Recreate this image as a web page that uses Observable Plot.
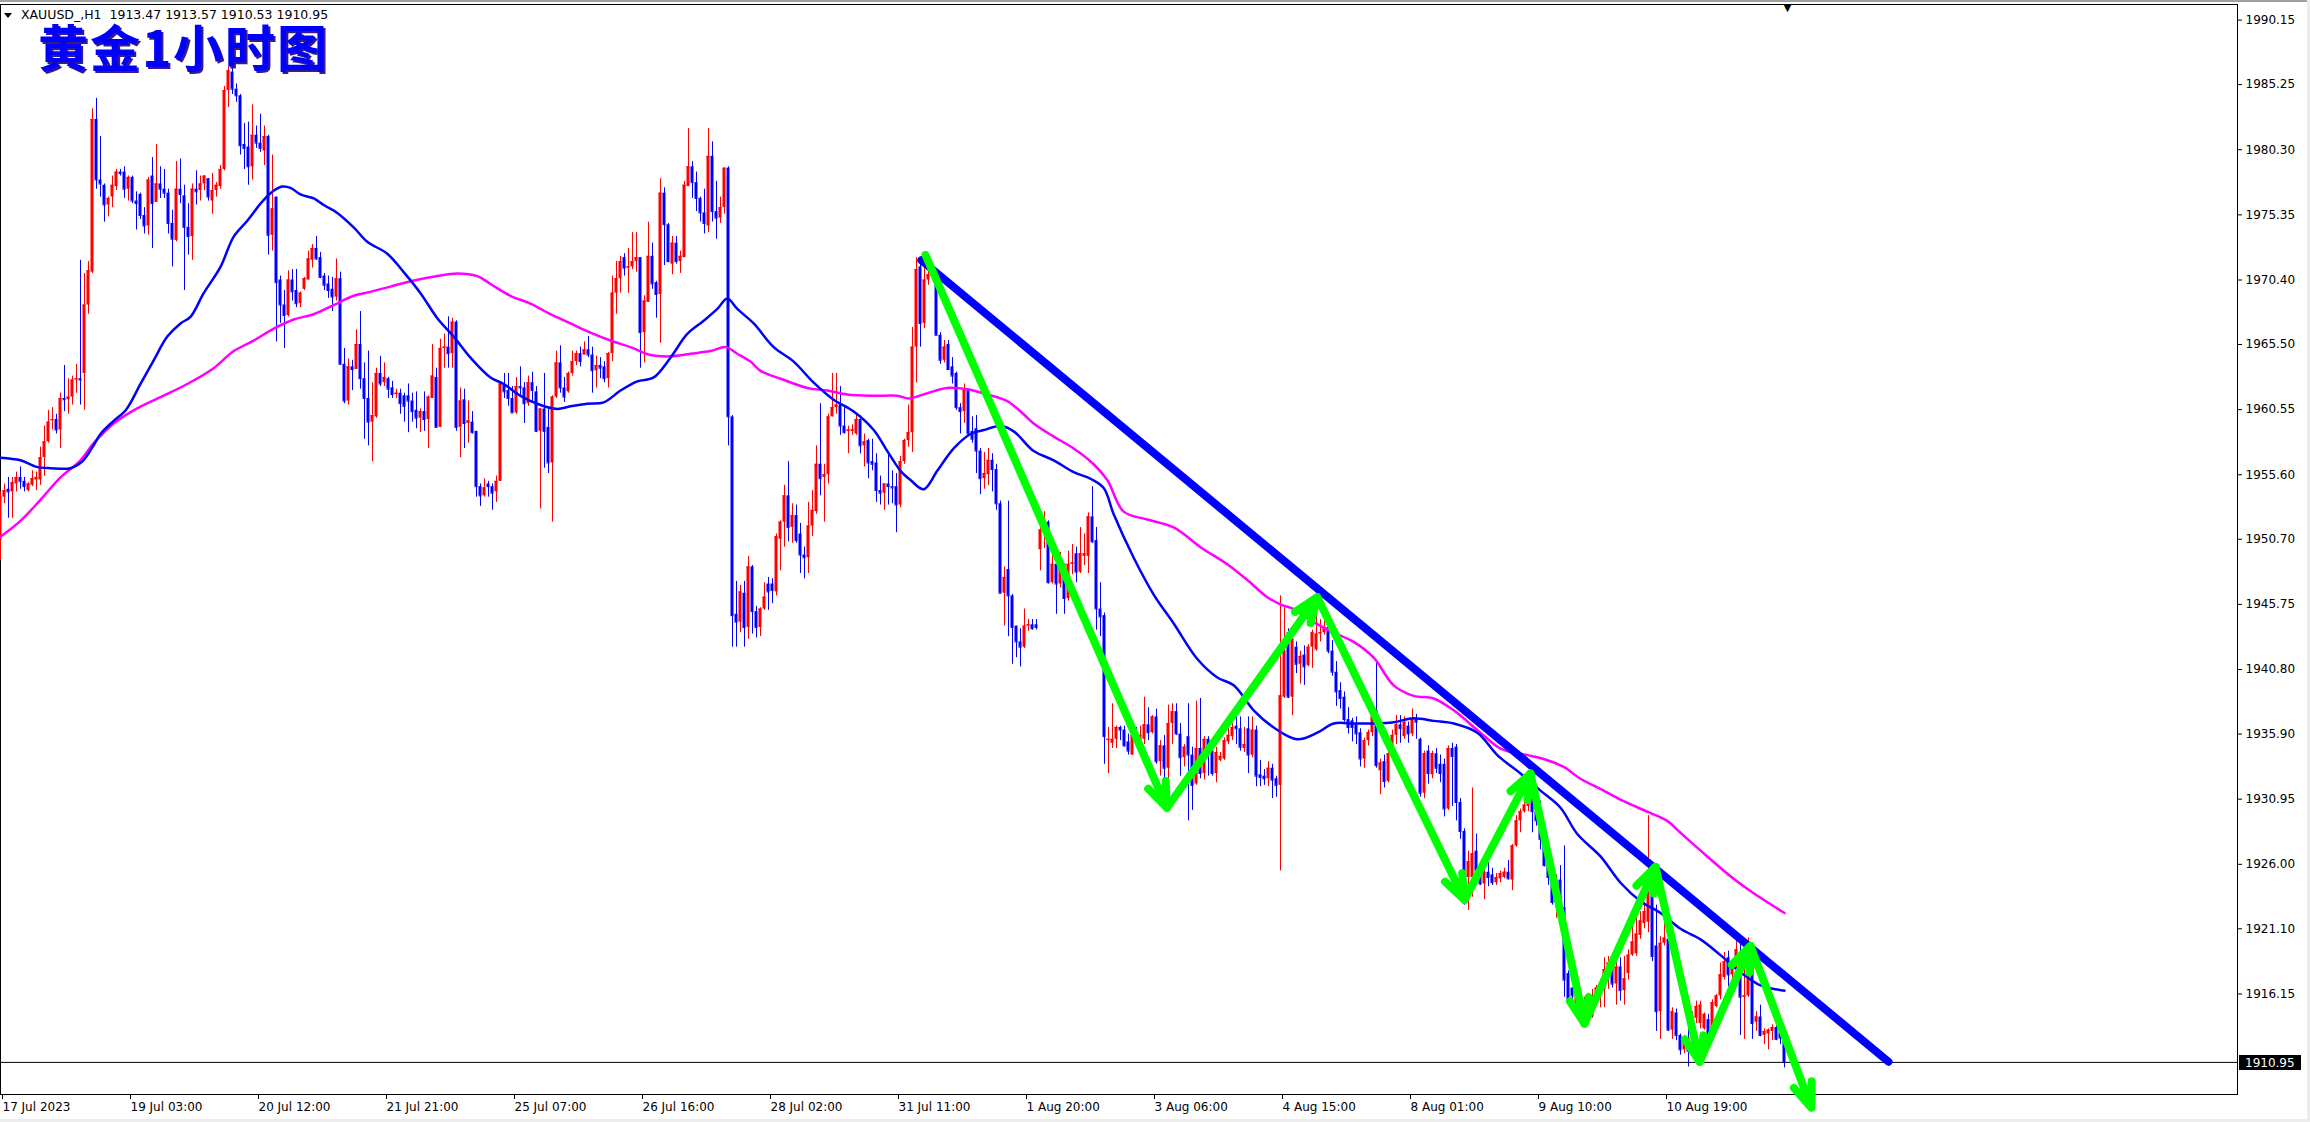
<!DOCTYPE html>
<html>
<head>
<meta charset="utf-8">
<script src="https://cdn.jsdelivr.net/npm/d3@7"></script>
<script src="https://cdn.jsdelivr.net/npm/@observablehq/plot@0.6"></script>
<style>
@font-face{font-family:"TitleCJK";src:local("Noto Sans CJK SC Bold"),local("NotoSansCJKsc-Bold"),local("Noto Sans CJK SC");font-weight:700;ascent-override:88%;descent-override:12%;line-gap-override:0%;}
html,body{margin:0;padding:0;background:#fff;}
#wrap{position:relative;width:2310px;height:1122px;overflow:hidden;background:#fff;}
#wrap svg{position:absolute;left:0;top:0;}
#topbar{position:absolute;left:0;top:0;width:2310px;height:2px;background:#a0a0a0;z-index:3;}
#bottombar{position:absolute;left:0;top:1119px;width:2310px;height:3px;background:#ececec;z-index:3;}
#rightbar{position:absolute;left:2307px;top:0;width:3px;height:1122px;background:#ececec;z-index:3;}
#tri{position:absolute;left:4px;top:13px;width:0;height:0;border-left:4.5px solid transparent;border-right:4.5px solid transparent;border-top:5px solid #000;z-index:3;}
#header{position:absolute;left:21px;top:7px;font-family:"DejaVu Sans",sans-serif;font-size:12.5px;line-height:15px;color:#000;white-space:pre;z-index:3;}
#title{position:absolute;left:38px;top:23px;font-family:"TitleCJK","Noto Sans CJK SC",sans-serif;font-weight:700;font-size:50px;line-height:50px;letter-spacing:2px;color:#0000ff;text-shadow:2px 2px 0 #3a1a8a;white-space:pre;z-index:3;}
</style>
</head>
<body>
<div id="wrap">
  <div id="topbar"></div>
  <div id="bottombar"></div>
  <div id="rightbar"></div>
  <div id="tri"></div>
  <div id="header">XAUUSD_,H1  1913.47 1913.57 1910.53 1910.95</div>
  <div id="title">黄金1小时图</div>
</div>
<script>
// ---------- DATA (H1 bars, index 0 = 17 Jul 2023 17:00) ----------
const open = [
1950.6,1953.9,1954.5,1954.3,1954.9,1955.4,1955.1,1954.4,1954.8,1955.2,
1955.2,1956.9,1958.1,1959.7,1959.8,1959.0,1961.4,1961.3,1961.5,1962.8,
1962.9,1963.3,1968.5,1971.0,1982.6,1978.0,1977.6,1976.1,1976.7,1977.5,
1978.6,1978.6,1977.3,1978.2,1976.4,1976.9,1975.3,1974.5,1978.3,1976.3,
1977.7,1977.3,1977.0,1974.7,1973.4,1977.3,1976.8,1974.4,1973.7,1977.3,
1977.2,1977.7,1978.1,1976.4,1977.2,1977.5,1978.8,1984.8,1986.2,1984.9,
1984.4,1980.7,1980.5,1979.0,1981.4,1980.8,1980.2,1981.3,1973.8,1976.7,
1970.4,1968.5,1967.7,1970.4,1969.6,1968.6,1969.7,1970.4,1971.9,1972.8,
1972.1,1970.7,1970.1,1969.7,1969.1,1970.5,1964.0,1961.2,1963.8,1963.6,
1965.5,1962.9,1961.4,1959.6,1960.0,1963.3,1962.6,1962.9,1962.2,1961.7,
1961.8,1961.6,1961.6,1961.2,1960.5,1959.9,1960.4,1959.8,1961.4,1963.0,
1959.2,1965.2,1965.3,1964.8,1967.2,1959.2,1961.3,1959.5,1959.6,1958.9,
1954.7,1954.0,1954.9,1954.7,1954.3,1955.1,1962.5,1962.0,1961.4,1960.3,
1962.3,1962.2,1961.0,1962.6,1961.9,1958.9,1960.6,1959.2,1956.5,1961.5,
1964.1,1962.2,1961.9,1963.3,1964.2,1964.8,1964.7,1965.1,1964.7,1963.5,
1963.9,1963.8,1962.9,1964.8,1969.4,1970.5,1972.1,1971.3,1971.4,1971.8,
1972.1,1966.4,1968.7,1972.2,1970.2,1969.3,1977.0,1974.6,1971.6,1973.2,
1971.8,1972.1,1977.5,1979.0,1977.8,1976.6,1975.5,1974.5,1979.8,1975.6,
1975.1,1975.9,1978.9,1960.0,1945.0,1944.4,1946.6,1944.0,1948.6,1945.2,
1944.0,1945.4,1947.3,1947.3,1946.7,1950.7,1952.0,1954.0,1951.6,1952.5,
1951.1,1949.5,1949.3,1951.7,1952.8,1956.4,1955.4,1955.6,1960.0,1960.7,
1960.9,1959.3,1958.9,1958.9,1958.7,1959.8,1957.8,1958.2,1956.6,1956.5,
1954.4,1954.2,1954.9,1954.7,1954.7,1953.3,1956.6,1958.2,1958.8,1965.3,
1971.4,1967.1,1970.4,1970.8,1971.1,1966.2,1964.3,1965.5,1963.8,1963.3,
1960.7,1960.4,1962.0,1958.9,1959.1,1957.4,1955.3,1955.6,1956.7,1956.0,
1953.4,1946.6,1948.4,1946.4,1944.1,1942.9,1942.5,1944.1,1944.2,1944.2,
1949.9,1951.4,1952.0,1947.4,1948.8,1947.3,1948.8,1946.2,1948.8,1949.6,
1948.2,1949.4,1949.4,1952.4,1950.6,1945.4,1944.9,1935.4,1935.2,1935.5,
1936.4,1936.2,1935.3,1934.3,1935.8,1935.4,1935.5,1936.6,1936.0,1937.2,
1933.8,1935.0,1933.3,1936.7,1937.6,1935.9,1934.1,1935.7,1934.3,1932.1,
1934.8,1932.9,1935.5,1934.6,1932.9,1933.9,1934.0,1935.3,1935.7,1936.5,
1936.3,1934.8,1936.3,1934.3,1936.2,1932.8,1932.7,1932.5,1933.3,1932.5,
1932.0,1938.7,1943.6,1938.7,1942.5,1941.2,1941.9,1941.1,1942.5,1942.3,
1943.5,1943.6,1944.0,1942.2,1940.6,1939.2,1938.7,1937.0,1936.9,1936.6,
1936.0,1934.0,1935.4,1936.0,1937.7,1933.1,1933.8,1932.3,1934.4,1935.8,
1936.6,1935.7,1936.5,1935.9,1937.0,1935.5,1931.4,1934.6,1932.8,1934.4,
1933.6,1933.6,1930.2,1934.8,1934.9,1930.7,1928.5,1925.0,1925.0,1927.0,
1925.5,1924.5,1925.4,1925.2,1924.6,1924.9,1925.0,1925.4,1924.8,1927.4,
1929.3,1930.0,1930.4,1931.0,1930.0,1929.4,1927.9,1925.9,1925.0,1923.1,
1924.8,1922.7,1917.7,1916.6,1915.1,1916.0,1914.6,1914.8,1914.4,1916.0,
1916.3,1916.4,1918.0,1918.4,1916.9,1918.2,1916.4,1917.7,1919.1,1919.2,
1920.6,1921.5,1921.6,1924.6,1919.8,1914.8,1920.0,1920.3,1913.4,1914.7,
1913.0,1911.9,1912.8,1912.7,1914.3,1913.9,1913.5,1914.2,1913.4,1915.2,
1916.0,1917.4,1918.9,1917.6,1918.6,1918.5,1915.9,1916.0,1919.5,1914.0,
1914.4,1913.0,1913.1,1913.3,1913.6,1913.2,1913.47];

const high = [
1954.3,1954.9,1955.4,1955.4,1955.8,1956.2,1955.4,1955.0,1955.9,1955.8,
1957.7,1959.3,1960.5,1960.7,1960.2,1961.8,1963.9,1962.9,1963.1,1964.0,
1971.9,1970.9,1971.8,1983.4,1984.2,1981.3,1977.7,1976.7,1978.3,1978.8,
1978.8,1979.0,1978.3,1978.3,1977.1,1977.0,1975.9,1978.2,1979.7,1980.7,
1979.0,1978.8,1977.3,1975.7,1979.4,1979.6,1977.6,1976.2,1977.7,1978.7,
1978.3,1978.3,1978.1,1978.5,1977.8,1979.1,1985.1,1986.6,1987.1,1985.3,
1984.5,1982.3,1982.4,1983.7,1982.1,1983.0,1982.1,1981.4,1979.9,1976.7,
1970.7,1969.6,1971.1,1971.2,1971.2,1969.5,1970.6,1972.6,1973.1,1973.7,
1972.5,1970.9,1970.7,1970.6,1972.0,1971.0,1965.2,1964.4,1964.3,1966.6,
1968.0,1964.1,1965.0,1962.6,1963.7,1964.6,1964.1,1963.0,1962.7,1962.1,
1962.1,1961.8,1962.5,1961.8,1961.9,1960.6,1961.9,1961.6,1965.5,1963.7,
1965.9,1966.3,1967.6,1967.5,1967.3,1962.2,1962.1,1961.2,1960.4,1958.9,
1954.9,1955.3,1955.1,1954.9,1955.5,1962.6,1963.3,1963.3,1962.3,1963.0,
1963.8,1962.6,1963.1,1963.4,1962.3,1960.6,1963.3,1960.7,1961.6,1965.0,
1965.4,1963.0,1963.4,1965.0,1965.0,1965.3,1965.7,1966.1,1965.3,1964.6,
1964.5,1964.2,1964.9,1970.7,1971.8,1972.2,1972.4,1972.8,1974.0,1974.0,
1972.1,1969.2,1974.8,1973.2,1970.3,1978.1,1977.4,1974.7,1973.7,1973.7,
1972.6,1977.9,1981.9,1979.4,1978.6,1976.7,1977.3,1981.9,1980.9,1977.9,
1976.7,1978.9,1979.0,1960.1,1947.5,1947.2,1947.5,1949.4,1948.7,1945.6,
1945.5,1947.4,1947.8,1947.7,1951.1,1952.1,1954.8,1956.6,1953.4,1953.3,
1951.9,1950.1,1953.5,1954.4,1957.8,1961.0,1956.4,1960.2,1963.3,1963.3,
1962.3,1960.7,1959.3,1959.4,1960.1,1960.1,1958.7,1958.3,1958.3,1957.2,
1955.5,1954.9,1957.1,1955.9,1955.7,1957.0,1958.3,1960.9,1966.8,1972.1,
1972.0,1972.3,1972.0,1971.6,1971.2,1966.4,1965.8,1965.8,1964.5,1963.4,
1961.0,1962.5,1962.1,1960.0,1960.1,1957.6,1957.3,1957.6,1957.2,1956.4,
1953.6,1948.6,1953.6,1946.5,1944.1,1943.9,1945.4,1944.6,1944.6,1944.6,
1952.8,1952.8,1952.1,1950.1,1949.0,1949.7,1948.8,1949.8,1950.3,1950.1,
1951.6,1951.1,1952.7,1954.7,1951.6,1947.4,1945.1,1936.4,1938.2,1936.5,
1936.5,1936.5,1935.9,1936.4,1936.4,1936.5,1938.7,1937.9,1937.3,1937.8,
1935.4,1935.8,1938.1,1938.2,1938.2,1936.7,1935.1,1938.2,1934.9,1938.4,
1938.6,1935.7,1935.7,1934.8,1934.9,1934.5,1935.6,1936.5,1936.7,1937.3,
1937.2,1936.4,1937.2,1937.2,1936.5,1933.9,1933.2,1933.8,1933.6,1932.7,
1946.4,1945.5,1943.9,1943.3,1942.9,1942.2,1942.6,1942.7,1943.8,1945.7,
1944.6,1945.3,1944.3,1943.0,1941.4,1939.8,1939.1,1937.9,1937.1,1937.2,
1936.3,1935.6,1936.2,1938.1,1941.3,1934.0,1934.3,1935.0,1936.2,1937.3,
1937.3,1937.2,1936.8,1937.8,1937.4,1935.6,1934.6,1935.0,1934.6,1934.8,
1934.3,1934.0,1935.0,1935.2,1935.1,1931.0,1928.7,1927.0,1931.8,1928.3,
1926.0,1926.3,1926.1,1925.7,1925.3,1925.5,1925.7,1926.3,1927.5,1929.7,
1930.2,1930.8,1932.3,1932.3,1930.3,1930.8,1928.2,1926.3,1925.8,1925.2,
1925.9,1927.4,1917.9,1916.6,1916.3,1916.6,1915.9,1916.2,1916.5,1916.8,
1917.2,1918.9,1919.0,1918.6,1919.0,1918.9,1919.0,1919.5,1921.4,1922.0,
1922.4,1923.1,1929.7,1925.0,1922.9,1920.5,1921.8,1920.6,1915.1,1915.0,
1913.1,1913.0,1915.0,1914.8,1915.6,1915.6,1914.7,1914.6,1915.7,1916.1,
1918.5,1919.3,1919.4,1918.7,1920.3,1920.0,1920.0,1920.4,1919.8,1914.8,
1915.3,1913.5,1913.5,1913.8,1914.0,1913.4,1913.57];

const low = [
1949.1,1953.4,1952.3,1952.3,1954.3,1954.5,1954.3,1954.3,1954.7,1954.4,
1954.8,1955.5,1958.0,1959.0,1958.7,1957.6,1960.4,1960.2,1960.9,1961.8,
1960.9,1960.5,1967.8,1970.9,1977.3,1976.7,1974.8,1975.2,1975.9,1977.2,
1978.3,1976.6,1976.4,1976.2,1974.2,1975.0,1973.9,1973.8,1972.8,1976.3,
1976.6,1976.6,1973.9,1971.4,1973.3,1976.2,1969.6,1972.3,1971.9,1976.1,
1976.4,1977.2,1976.4,1975.4,1976.7,1977.3,1978.7,1983.5,1984.5,1983.9,
1979.9,1978.8,1977.6,1978.0,1980.4,1980.1,1979.1,1972.3,1972.6,1965.7,
1967.1,1965.2,1967.6,1968.8,1968.3,1968.3,1969.6,1970.4,1971.3,1971.9,
1970.5,1969.6,1969.0,1968.0,1968.8,1963.9,1961.0,1960.9,1962.0,1963.6,
1962.1,1958.3,1957.8,1956.6,1959.9,1962.3,1962.3,1961.4,1961.4,1961.4,
1960.2,1959.6,1958.8,1959.6,1959.1,1958.8,1958.9,1957.6,1961.4,1959.2,
1959.2,1963.7,1963.7,1963.7,1958.9,1956.9,1957.6,1958.0,1958.7,1953.9,
1953.2,1953.9,1953.9,1952.9,1953.5,1955.1,1961.4,1960.8,1960.3,1960.2,
1961.5,1959.5,1960.8,1961.1,1958.8,1953.0,1956.1,1955.7,1952.0,1961.4,
1961.8,1961.1,1961.8,1963.1,1963.9,1963.8,1964.7,1964.5,1961.8,1962.2,
1962.9,1962.6,1962.2,1964.2,1967.8,1969.4,1970.7,1969.4,1971.2,1971.0,
1963.7,1964.1,1968.7,1969.7,1967.5,1965.6,1971.5,1971.7,1970.8,1971.6,
1970.9,1972.1,1977.5,1976.6,1975.6,1974.8,1973.9,1974.0,1974.8,1973.5,
1974.7,1975.4,1957.8,1942.5,1942.5,1943.6,1942.5,1943.1,1943.5,1943.2,
1943.3,1945.3,1945.3,1945.8,1946.4,1948.3,1950.1,1950.5,1950.4,1950.4,
1948.1,1947.7,1948.1,1950.9,1952.6,1954.0,1952.0,1954.9,1960.0,1960.2,
1958.6,1958.7,1957.2,1958.6,1958.6,1957.2,1956.2,1955.3,1955.9,1953.5,
1953.3,1952.9,1953.3,1953.4,1951.2,1953.1,1956.4,1957.7,1957.3,1962.6,
1965.3,1966.7,1970.0,1970.4,1966.2,1964.0,1964.1,1963.6,1962.5,1960.5,
1958.7,1959.5,1958.7,1958.0,1955.7,1954.1,1954.5,1954.8,1954.3,1952.9,
1946.6,1944.1,1943.3,1941.2,1941.7,1941.0,1942.4,1943.7,1943.8,1943.8,
1948.3,1950.0,1947.3,1947.3,1945.0,1947.0,1945.0,1946.0,1948.0,1947.4,
1948.1,1948.7,1948.1,1950.4,1943.8,1943.3,1933.6,1932.9,1934.8,1934.8,
1935.4,1934.9,1934.3,1934.3,1935.0,1935.1,1935.1,1935.4,1935.9,1933.6,
1932.7,1932.4,1931.9,1935.1,1935.8,1932.7,1933.4,1929.3,1930.1,1932.0,
1932.5,1932.4,1932.7,1932.7,1932.2,1933.8,1933.9,1935.1,1935.4,1935.1,
1934.6,1934.5,1932.9,1934.1,1931.9,1931.9,1932.0,1931.9,1931.0,1931.1,
1925.5,1938.6,1938.6,1937.3,1940.5,1939.7,1939.6,1941.0,1940.9,1942.2,
1942.9,1943.4,1942.0,1940.3,1938.0,1937.8,1936.8,1935.9,1935.3,1935.1,
1933.4,1933.3,1935.0,1935.7,1933.3,1931.3,1931.8,1932.2,1934.0,1935.1,
1935.2,1935.5,1935.2,1935.7,1935.5,1931.1,1931.0,1932.1,1932.5,1932.9,
1932.2,1929.6,1930.1,1930.4,1929.3,1927.9,1922.9,1922.5,1923.5,1924.4,
1924.4,1923.3,1924.3,1924.4,1924.4,1924.6,1924.9,1924.8,1924.0,1927.3,
1928.4,1929.9,1930.0,1928.4,1928.9,1927.1,1925.8,1924.4,1922.9,1921.9,
1921.4,1915.9,1915.3,1915.1,1914.9,1914.8,1913.9,1914.3,1914.3,1915.9,
1915.1,1915.1,1916.5,1916.6,1915.3,1915.6,1915.3,1917.2,1919.0,1919.0,
1920.3,1921.1,1920.8,1918.6,1913.3,1912.7,1919.8,1913.3,1912.7,1912.6,
1911.5,1911.6,1910.6,1912.4,1913.9,1913.5,1913.4,1912.5,1912.5,1915.1,
1915.7,1917.2,1916.7,1917.2,1917.7,1913.0,1912.7,1915.9,1912.7,1913.3,
1912.9,1912.3,1911.9,1912.6,1912.6,1912.3,1910.53];

const close = [
1953.9,1954.4,1954.3,1955.0,1955.4,1955.1,1954.7,1954.9,1955.3,1955.4,
1956.9,1958.1,1959.6,1959.8,1959.0,1961.4,1961.3,1961.5,1962.8,1962.9,
1962.8,1968.5,1971.1,1982.6,1978.0,1977.7,1976.1,1976.6,1977.6,1978.6,
1978.5,1977.3,1978.2,1976.4,1976.2,1975.3,1974.5,1978.0,1976.2,1977.7,
1977.3,1977.0,1974.7,1973.5,1977.3,1976.9,1974.4,1973.7,1977.3,1977.1,
1977.7,1978.3,1976.7,1977.2,1977.6,1978.8,1984.8,1986.3,1984.9,1984.4,
1980.6,1980.4,1979.0,1981.4,1980.8,1980.4,1981.3,1973.8,1975.8,1970.2,
1968.5,1967.7,1970.4,1969.5,1968.6,1969.4,1970.5,1972.0,1972.8,1972.0,
1970.6,1970.0,1969.6,1969.1,1970.5,1964.0,1961.2,1963.8,1963.6,1965.5,
1962.9,1961.4,1959.6,1960.1,1963.3,1962.5,1963.0,1962.1,1961.7,1961.8,
1961.0,1960.8,1961.2,1960.4,1959.9,1960.4,1959.8,1961.5,1963.1,1959.2,
1965.2,1965.3,1964.8,1967.2,1959.2,1961.2,1959.5,1959.7,1958.8,1954.7,
1954.0,1954.6,1954.7,1954.2,1955.1,1962.5,1961.9,1961.4,1960.3,1962.3,
1962.2,1961.0,1962.6,1962.0,1958.9,1960.6,1958.9,1956.5,1961.5,1964.1,
1962.2,1961.5,1963.3,1964.2,1964.8,1964.2,1965.1,1964.7,1963.5,1963.9,
1963.7,1962.9,1964.8,1969.4,1970.5,1971.8,1971.3,1971.4,1971.8,1972.1,
1966.4,1968.8,1972.2,1970.1,1969.3,1977.0,1974.6,1971.8,1973.2,1971.8,
1972.2,1977.6,1979.0,1977.8,1976.6,1975.5,1974.7,1979.8,1975.6,1975.1,
1975.9,1978.9,1960.0,1944.9,1944.4,1946.7,1944.0,1948.6,1945.2,1944.0,
1945.4,1946.3,1946.7,1946.8,1950.9,1952.0,1954.0,1951.6,1952.5,1950.6,
1949.5,1949.3,1951.7,1952.9,1956.4,1955.3,1955.6,1960.0,1960.7,1960.9,
1959.3,1958.8,1959.0,1959.0,1959.8,1957.8,1958.1,1956.5,1956.4,1954.4,
1954.2,1954.9,1954.7,1954.6,1953.3,1956.6,1958.2,1958.8,1965.3,1971.2,
1967.1,1970.4,1970.8,1971.1,1966.2,1964.3,1965.3,1963.6,1963.1,1960.7,
1960.4,1962.0,1958.7,1958.3,1957.4,1955.3,1955.7,1956.7,1956.0,1953.4,
1946.6,1947.8,1946.4,1944.0,1942.9,1942.5,1944.1,1944.2,1943.9,1944.0,
1951.4,1952.0,1947.4,1948.8,1947.3,1948.4,1946.2,1948.8,1948.9,1948.2,
1949.6,1949.6,1952.4,1950.5,1945.4,1944.8,1935.7,1935.5,1935.5,1936.4,
1936.2,1935.0,1934.6,1935.8,1935.5,1935.8,1936.6,1936.0,1937.2,1933.8,
1935.0,1933.3,1936.7,1937.6,1935.9,1934.1,1934.9,1934.3,1932.0,1934.8,
1932.9,1935.5,1934.6,1932.9,1934.5,1934.2,1935.4,1935.8,1936.4,1936.3,
1934.9,1935.1,1934.3,1936.2,1932.7,1932.6,1932.5,1933.3,1932.4,1932.0,
1938.8,1942.2,1938.7,1943.1,1941.2,1941.8,1941.0,1942.5,1943.6,1943.5,
1943.6,1944.0,1942.2,1940.6,1939.1,1938.6,1937.0,1936.4,1936.4,1935.9,
1934.0,1935.4,1936.0,1937.2,1933.5,1933.7,1932.3,1934.4,1935.8,1936.6,
1936.3,1936.8,1935.9,1937.0,1936.8,1931.4,1934.4,1932.9,1934.4,1933.3,
1932.9,1930.2,1934.8,1934.2,1930.7,1928.5,1925.3,1926.2,1926.8,1925.5,
1924.5,1925.4,1925.0,1924.6,1925.0,1925.3,1925.4,1924.9,1927.4,1929.3,
1930.0,1930.5,1931.0,1930.0,1929.3,1927.9,1925.9,1925.0,1923.1,1924.8,
1922.7,1917.2,1915.6,1916.0,1916.0,1915.3,1915.6,1915.7,1916.0,1916.6,
1916.5,1918.0,1918.5,1916.9,1918.2,1916.4,1917.3,1919.1,1920.1,1920.7,
1921.7,1922.4,1924.8,1919.0,1914.8,1920.0,1920.4,1913.4,1914.8,1913.0,
1911.9,1912.8,1911.8,1914.4,1915.2,1915.3,1914.6,1912.7,1915.5,1916.0,
1917.6,1918.6,1917.6,1918.2,1919.5,1915.9,1916.0,1919.8,1913.9,1914.4,
1913.0,1913.3,1913.4,1913.6,1912.7,1912.8,1910.95];

// fast moving average (blue), read at bar positions
const fastBar = [0,5,9,12.5,17.5,20.4,23,25,28.3,31.3,35,38.3,41.7,45,47.5,50.8,55,58.3,61.7,65,67.5,70.4,72.5,75,78.3,80.8,84.2,88.3,91.7,96.7,100.8,105,109.2,113.3,117.5,122.5,125.8,130,135,139.2,142.5,146.7,150.8,155,159.2,163.3,167.5,171.7,175.8,179.2,181.7,184.2,188.3,193.3,198.3,203.3,208.3,213.3,218.3,221.7,225,227.5,230.8,234.2,238.3,242.5,245.8,250,253.3,258.3,263.3,268.3,272.5,275.8,278.3,283.3,288.3,293.3,299.2,304.2,308.3,313.3,318.3,324.2,329.2,333.3,338.3,343.3,348.3,353.3,358.3,363.3,369.2,374.2,380,385,390,394.2,400,405,410,415,420,425,430,435,440,446];
const fastVal = [1956.9,1956.7,1956.2,1956.1,1956.1,1956.6,1957.7,1958.7,1959.7,1960.5,1962.5,1964.3,1966.1,1967.1,1967.6,1969.4,1971.4,1973.7,1974.9,1976.2,1977.0,1977.5,1977.4,1976.9,1976.6,1976.1,1975.5,1974.4,1973.3,1972.4,1971.0,1969.4,1967.5,1966.1,1964.5,1963.0,1962.5,1961.6,1960.9,1960.6,1960.8,1961.0,1961.1,1962.0,1962.7,1963.0,1964.5,1966.3,1967.3,1968.2,1969.0,1968.2,1967.1,1965.3,1964.2,1962.6,1961.3,1960.4,1959.0,1957.4,1955.9,1955.2,1954.5,1955.9,1957.6,1958.7,1959.0,1959.3,1958.9,1957.4,1956.7,1955.8,1955.3,1954.6,1952.6,1949.3,1946.5,1944.3,1941.6,1940.2,1939.6,1937.7,1936.4,1935.5,1936.0,1936.7,1936.7,1936.7,1936.8,1937.1,1936.9,1936.7,1936.0,1934.3,1932.9,1931.6,1930.3,1928.3,1926.6,1924.6,1923.2,1922.3,1921.1,1920.3,1919.1,1917.8,1916.8,1916.4];

// slow moving average (magenta)
const slowBar = [0,5,10,15,20,23.3,28.3,33.3,40,46.7,53.3,58.3,63.3,68.3,73.3,78.3,83.3,88.3,92.5,97.5,102.5,109.2,114.2,119.2,122.5,127.5,132.5,137.5,142.5,147.5,152.5,157.5,162.5,167.5,172.5,177.5,181.3,184.2,187.5,190,195,201.7,206.7,211.7,218.3,224.2,227.1,231.7,236.7,241.7,246.7,251.7,255.8,258.3,263.3,268.3,273.3,276.7,280.8,286.7,293.3,300,306.7,311.7,316.7,320.4,323.3,328.3,333.3,338.3,343.3,348.3,353.3,358.3,363.3,370,375,381.7,385.8,390.8,395,400.8,405.8,411.7,416.7,420,426.7,433.3,438.3,446];
const slowVal = [1950.9,1952.1,1953.7,1955.4,1956.7,1958.0,1959.5,1960.5,1961.5,1962.5,1963.7,1965.0,1965.8,1966.7,1967.4,1967.8,1968.5,1969.2,1969.5,1969.9,1970.3,1970.7,1970.9,1970.7,1970.1,1969.2,1968.6,1967.8,1967.1,1966.4,1965.8,1965.3,1964.7,1964.6,1964.8,1965.0,1965.3,1964.8,1964.2,1963.5,1962.9,1962.2,1962.0,1961.7,1961.6,1961.6,1961.4,1961.8,1962.2,1962.1,1961.7,1961.2,1960.2,1959.5,1958.5,1957.6,1956.4,1955.2,1952.8,1952.2,1951.6,1950.1,1948.8,1947.6,1946.3,1945.7,1945.4,1944.4,1943.6,1942.9,1941.7,1939.6,1938.8,1938.6,1937.7,1936.0,1934.8,1934.3,1934.0,1933.4,1932.5,1931.6,1930.8,1930.0,1929.3,1928.4,1926.6,1924.9,1923.8,1922.3];

// drawn trend line (two anchors) and green zigzag arrows
const trendBar = [230.2, 472];
const trendVal = [1971.9, 1911.0];
const zzBar = [231.25, 291.6, 329.2, 366, 382.5, 396, 413.75, 424.8, 437.5, 452.75];
const zzVal = [1972.3, 1930.3, 1946.3, 1923.3, 1932.9, 1913.9, 1925.8, 1911.0, 1919.8, 1907.5];

// axes
const xTickBars = [0,32,64,96,128,160,192,224,256,288,320,352,384,416];
const xTickLabels = ["17 Jul 2023","19 Jul 03:00","20 Jul 12:00","21 Jul 21:00","25 Jul 07:00","26 Jul 16:00","28 Jul 02:00","31 Jul 11:00","1 Aug 20:00","3 Aug 06:00","4 Aug 15:00","8 Aug 01:00","9 Aug 10:00","10 Aug 19:00"];
const yTicks = [1990.15,1985.25,1980.30,1975.35,1970.40,1965.50,1960.55,1955.60,1950.70,1945.75,1940.80,1935.90,1930.95,1926.00,1921.10,1916.15];
const currentPrice = 1910.95;

// ---------- BUILD ----------
const candles = close.map((c, i) => ({i, o: open[i], h: high[i], l: low[i], c}));
const col = d => d.c >= d.o ? "#ff0000" : "#0000ff";
const fast = fastBar.map((b, k) => ({b, v: fastVal[k]}));
const slow = slowBar.map((b, k) => ({b, v: slowVal[k]}));
const segs = d3.range(zzBar.length - 1).map(k => ({x1: zzBar[k], y1: zzVal[k], x2: zzBar[k + 1], y2: zzVal[k + 1]}));
const trend = [{x1: trendBar[0], y1: trendVal[0], x2: trendBar[1], y2: trendVal[1]}];
const BW = 0.375;

const chart = Plot.plot({
  width: 2310,
  height: 1122,
  marginLeft: 0,
  marginRight: 73,
  marginTop: 4,
  marginBottom: 28,
  x: {type: "linear", domain: [0, 559.25]},
  y: {type: "linear", domain: [1908.51, 1991.335]},
  color: {type: "identity"},
  style: {fontFamily: "DejaVu Sans", fontSize: "12px", background: "transparent", color: "#000", overflow: "visible"},
  marks: [
    Plot.frame({stroke: "#000"}),
    Plot.ruleX(candles, {x: "i", y1: d => Math.min(d.l, d.o, d.c), y2: d => Math.max(d.h, d.o, d.c), stroke: col, strokeWidth: 1}),
    Plot.rect(candles, {x1: d => d.i - BW, x2: d => d.i + BW, y1: "o", y2: "c", fill: col}),
    Plot.ruleY(candles, {x1: d => d.i - BW, x2: d => d.i + BW, y: "c", stroke: col, strokeWidth: 1}),
    Plot.ruleY([currentPrice], {stroke: "#000", strokeWidth: 1}),
    Plot.line(slow, {x: "b", y: "v", stroke: "#ff00ff", strokeWidth: 2.5, curve: "catmull-rom"}),
    Plot.line(fast, {x: "b", y: "v", stroke: "#0000ff", strokeWidth: 2.5, curve: "catmull-rom"}),
    Plot.link(trend, {x1: "x1", y1: "y1", x2: "x2", y2: "y2", stroke: "#0000ff", strokeWidth: 8, strokeLinecap: "round"}),
    Plot.arrow(segs, {x1: "x1", y1: "y1", x2: "x2", y2: "y2", stroke: "#00ff00", strokeWidth: 8, headLength: 5, headAngle: 42, strokeLinecap: "round", strokeLinejoin: "round"}),
    Plot.axisX({ticks: xTickBars, tickFormat: v => xTickLabels[xTickBars.indexOf(v)], anchor: "bottom", tickSize: 5, tickPadding: 3, textAnchor: "start", dx: 2, label: null}),
    Plot.axisY({ticks: yTicks, tickFormat: v => v.toFixed(2), anchor: "right", tickSize: 4, tickPadding: 4, label: null}),
    Plot.text([close.length - 1], {x: d => d + 0.75, frameAnchor: "top", text: () => "▼", fontSize: 11, lineAnchor: "top", dy: -1, fill: "#000"})
  ]
});

document.getElementById("wrap").appendChild(chart);

// current price box on the right axis
const yPos = chart.scale("y").apply(currentPrice);
const svg = d3.select(chart);
svg.append("rect").attr("x", 2239).attr("y", Math.round(yPos) - 7).attr("width", 62).attr("height", 15).attr("fill", "#000");
svg.append("text").attr("x", 2245).attr("y", Math.round(yPos) + 0.5).attr("dy", "0.36em")
  .attr("text-anchor", "start").attr("fill", "#fff")
  .attr("font-family", "DejaVu Sans").attr("font-size", 12).text(currentPrice.toFixed(2));
</script>
</body>
</html>
